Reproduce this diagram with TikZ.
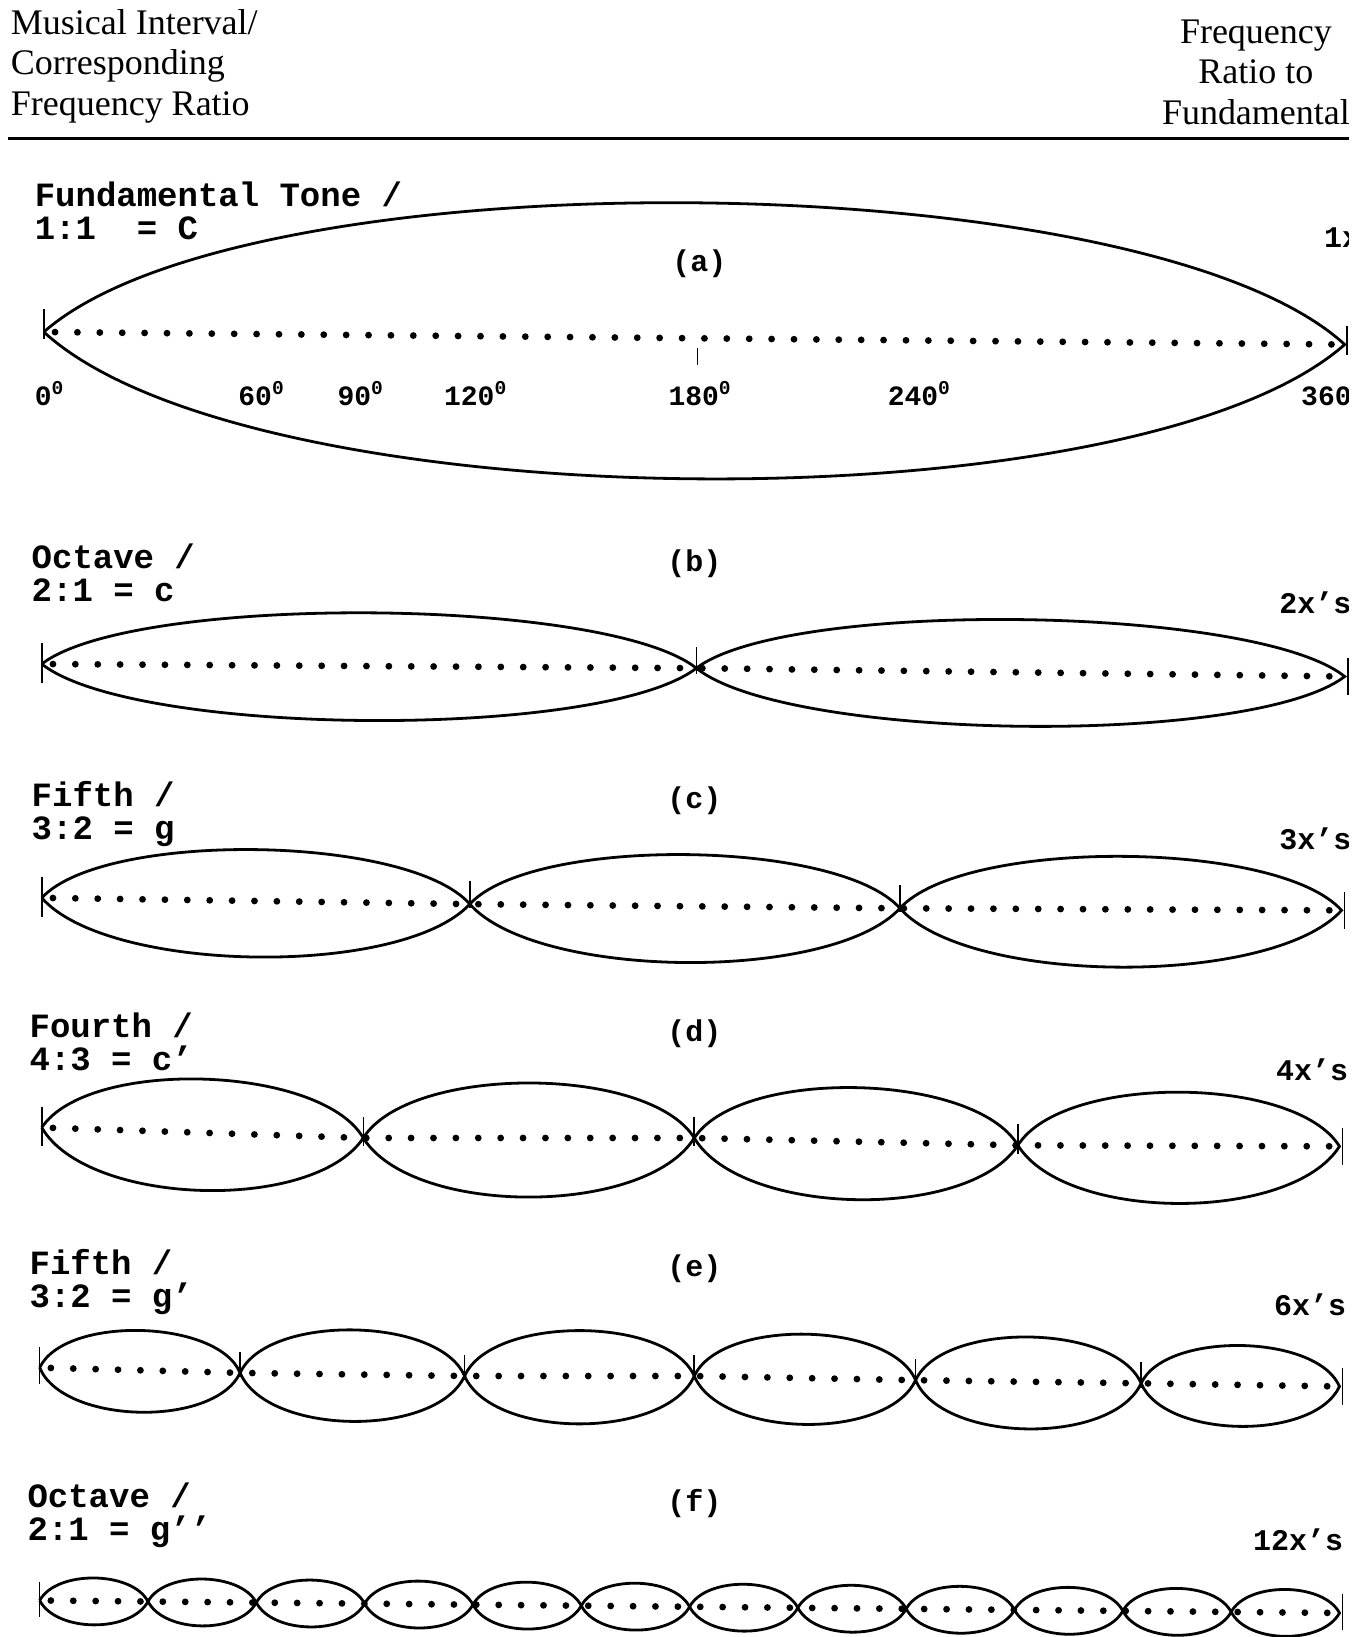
\documentclass[tikz,border=0pt]{standalone}
\usepackage{fontspec}
\setmainfont{Liberation Serif}
\setmonofont{Liberation Mono}
\tikzset{
  wave/.style={line width=1.4pt},
  dotaxis/.style={line width=3.4pt, line cap=round, dash pattern=on 0pt off 11.2pt, dash phase=5.6pt},
  nodetick/.style={line width=0.8pt},
  head/.style={inner sep=0pt, font=\fontsize{18}{20.1}\selectfont},
  rowlabel/.style={anchor=north west, align=left, inner sep=0pt, font=\ttfamily\bfseries\fontsize{17}{16.5}\selectfont},
  panel/.style={inner sep=0pt, font=\ttfamily\bfseries\fontsize{15}{15}\selectfont},
  ratio/.style={anchor=west, inner sep=0pt, font=\ttfamily\bfseries\fontsize{15}{15}\selectfont},
  deg/.style={anchor=west, inner sep=0pt, font=\ttfamily\bfseries\fontsize{14}{14}\selectfont}
}
\begin{document}
\begin{tikzpicture}[x=0.52215pt, y=0.52215pt]
\useasboundingbox (0,0) rectangle (1309,-1568);
\clip (0,0) rectangle (1292,-1568);
% header
\node[head, anchor=north west, align=left] (hleft) at (10,-9) {Musical Interval/\\Corresponding\\Frequency Ratio};
\node[head, anchor=north, align=center] (hright) at (1203,-19) {Frequency\\Ratio to\\Fundamental};
\coordinate (rulel) at (8,-133);
\coordinate (ruler) at (1292,-133);
\draw[line width=1.5pt] (rulel) -- (ruler);

% (a) fundamental
\node[rowlabel] (la) at (33,-174) {Fundamental Tone /\\1:1~~= C};
\node[panel] (pa) at (670,-253) {(a)};
\node[ratio] (ra) at (1268,-228) {1x};
\coordinate (a0) at (42,-318);
\coordinate (a1) at (1288,-330);
\coordinate (a180) at (668,-324);
\draw[wave, bend left=42] (a0) to[looseness=.53] (a1) to[looseness=.55] (a0);
\draw[dotaxis] (a0) -- (a1);
\draw[nodetick] (a0) ++(0,22) -- ++(0,-29);
\draw[nodetick] (a1) ++(2,18) -- ++(0,-28);
\draw[nodetick] (a180) ++(0,-9) -- ++(0,-17);
\node[deg] (d0) at (33,-377) {0\textsuperscript{0}};
\node[deg] (d60) at (228,-377) {60\textsuperscript{0}};
\node[deg] (d90) at (323,-377) {90\textsuperscript{0}};
\node[deg] (d120) at (425,-377) {120\textsuperscript{0}};
\node[deg] (d180) at (640,-377) {180\textsuperscript{0}};
\node[deg] (d240) at (850,-377) {240\textsuperscript{0}};
\node[deg] (d360) at (1246,-377) {360\textsuperscript{0}};

% (b) octave
\node[rowlabel] (lb) at (30,-521) {Octave /\\2:1 = c};
\node[panel] (pb) at (665,-540) {(b)};
\node[ratio] (rb) at (1225,-577) {2x’s};
\coordinate (b0) at (40,-636);
\coordinate (b1) at (667,-640);
\coordinate (b2) at (1288,-648);
\foreach \p/\q in {b0/b1,b1/b2}
  \draw[wave, bend left=38] (\p) to[looseness=.45] (\q) to[looseness=.46] (\p);
\draw[dotaxis] (b0) -- (b1) -- (b2);
\draw[nodetick] (b0) ++(0,20) -- ++(0,-38);
\foreach \v in {b1} \draw[nodetick] (\v) ++(0,20) -- ++(0,-26);
\draw[nodetick] (b2) ++(3,18) -- ++(0,-36);

% (c) fifth
\node[rowlabel] (lc) at (30,-748) {Fifth /\\3:2 = g};
\node[panel] (pc) at (665,-767) {(c)};
\node[ratio] (rc) at (1225,-803) {3x’s};
\coordinate (c0) at (40,-860);
\coordinate (c1) at (450,-866);
\coordinate (c2) at (862,-870);
\coordinate (c3) at (1285,-872);
\foreach \p/\q in {c0/c1,c1/c2,c2/c3}
  \draw[wave, bend left=48] (\p) to[looseness=.55] (\q) to[looseness=.6] (\p);
\draw[dotaxis] (c0) -- (c1) -- (c2) -- (c3);
\draw[nodetick] (c0) ++(0,20) -- ++(0,-38);
\foreach \v in {c1,c2} \draw[nodetick] (\v) ++(0,22) -- ++(0,-26);
\draw[nodetick] (c3) ++(3,18) -- ++(0,-36);

% (d) fourth
\node[rowlabel] (ld) at (28,-970) {Fourth /\\4:3 = c’};
\node[panel] (pd) at (665,-990) {(d)};
\node[ratio] (rd) at (1222,-1025) {4x’s};
\coordinate (d0) at (40,-1080);
\coordinate (d1) at (348,-1090);
\coordinate (d2) at (665,-1090);
\coordinate (d3) at (975,-1097);
\coordinate (d4) at (1283,-1098);
\foreach \p/\q in {d0/d1,d1/d2,d2/d3,d3/d4}
  \draw[wave, bend left=58] (\p) to[looseness=.67] (\q) to[looseness=.72] (\p);
\draw[dotaxis] (d0) -- (d1) -- (d2) -- (d3) -- (d4);
\draw[nodetick] (d0) ++(0,20) -- ++(0,-38);
\foreach \v in {d1,d2,d3} \draw[nodetick] (\v) ++(0,20) -- ++(0,-28);
\draw[nodetick] (d4) ++(3,18) -- ++(0,-36);

% (e) fifth
\node[rowlabel] (le) at (28,-1196) {Fifth /\\3:2 = g’};
\node[panel] (pe) at (665,-1215) {(e)};
\node[ratio] (re) at (1220,-1250) {6x’s};
\coordinate (e0) at (38,-1310);
\coordinate (e1) at (230,-1315);
\coordinate (e2) at (445,-1318);
\coordinate (e3) at (665,-1318);
\coordinate (e4) at (877,-1322);
\coordinate (e5) at (1093,-1325);
\coordinate (e6) at (1283,-1328);
\foreach \p/\q in {e0/e1,e1/e2,e2/e3,e3/e4,e4/e5,e5/e6}
  \draw[wave, bend left=66] (\p) to[looseness=.74] (\q) to[looseness=.78] (\p);
\draw[dotaxis] (e0) -- (e1) -- (e2) -- (e3) -- (e4) -- (e5) -- (e6);
\draw[nodetick] (e0) ++(0,20) -- ++(0,-36);
\foreach \v in {e1,e2,e3,e4,e5} \draw[nodetick] (\v) ++(0,20) -- ++(0,-24);
\draw[nodetick] (e6) ++(3,18) -- ++(0,-36);

% (f) octave
\node[rowlabel] (lf) at (26,-1420) {Octave /\\2:1 = g’’};
\node[panel] (pf) at (665,-1440) {(f)};
\node[ratio] (rf) at (1200,-1475) {12x’s};
\coordinate (f0) at (38,-1533);
\coordinate (f1) at (141.75,-1534);
\coordinate (f2) at (245.5,-1535);
\coordinate (f3) at (349.25,-1536);
\coordinate (f4) at (453,-1537);
\coordinate (f5) at (556.75,-1538);
\coordinate (f6) at (660.5,-1539);
\coordinate (f7) at (764.25,-1540);
\coordinate (f8) at (868,-1541);
\coordinate (f9) at (971.75,-1542);
\coordinate (f10) at (1075.5,-1543);
\coordinate (f11) at (1179.25,-1544);
\coordinate (f12) at (1283,-1545);
\foreach \p/\q in {f0/f1,f1/f2,f2/f3,f3/f4,f4/f5,f5/f6,f6/f7,f7/f8,f8/f9,f9/f10,f10/f11,f11/f12}
  \draw[wave, bend left=62] (\p) to[looseness=.82] (\q) to[looseness=.85] (\p);
\draw[dotaxis] (f0) -- (f1) -- (f2) -- (f3) -- (f4) -- (f5) -- (f6) -- (f7) -- (f8) -- (f9) -- (f10) -- (f11) -- (f12);
\draw[nodetick] (f0) ++(0,18) -- ++(0,-34);
\draw[nodetick] (f12) ++(3,18) -- ++(0,-34);
\end{tikzpicture}
\end{document}
